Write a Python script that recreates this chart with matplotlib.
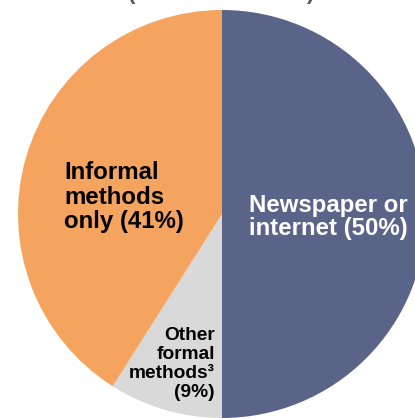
import matplotlib
matplotlib.use('Agg')
import matplotlib.pyplot as plt

# share of hires by recruiting method
labels = ['Newspaper or\ninternet (50%)', 'Other\nformal\nmethods\u00b3\n(9%)', 'Informal\nmethods\nonly (41%)']
shares = [50, 9, 41]
colors = ['#5A6488', '#D9D9D9', '#F5A45F']

plt.rcParams['font.family'] = ['Liberation Sans', 'DejaVu Sans']

fig = plt.figure(figsize=(4.15, 4.18), dpi=100)
ax = fig.add_axes([0, 0, 1, 1])

ax.pie(shares, colors=colors, startangle=90, counterclock=False,
       radius=204, center=(222, 204), frame=True,
       wedgeprops=dict(linewidth=0))
ax.set_xlim(0, 415)
ax.set_ylim(0, 418)
ax.set_aspect('equal')
ax.axis('off')

# labels
ax.text(249, 201, labels[0], color='white', fontsize=17.3, fontweight='bold',
        ha='left', va='center', linespacing=1.05)
ax.text(215, 54, labels[1], color='black', fontsize=13.8, fontweight='bold',
        ha='right', va='center', linespacing=1.17, multialignment='right')
ax.text(64, 221, labels[2], color='black', fontsize=17.3, fontweight='bold',
        ha='left', va='center', linespacing=1.08)

# title, cut off at the top of the picture
ax.text(132, 414, '(', color='#595959', fontsize=16, fontweight='bold',
        ha='center', va='bottom')
ax.text(310, 414, ')', color='#595959', fontsize=16, fontweight='bold',
        ha='center', va='bottom')

fig.savefig('out.png', dpi=100)
